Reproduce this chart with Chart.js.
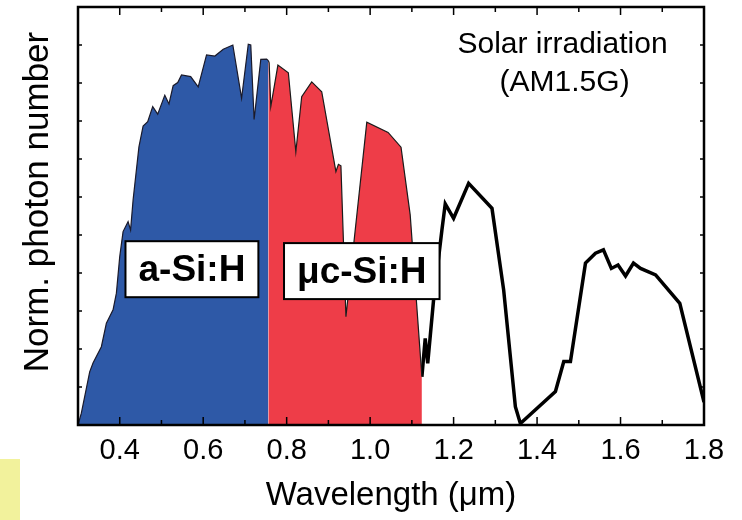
<!DOCTYPE html>
<html><head><meta charset="utf-8">
<script src="https://cdn.jsdelivr.net/npm/chart.js@4.4.1/dist/chart.umd.min.js"></script>
<style>html,body{margin:0;padding:0;background:#fff;}</style>
</head><body>
<canvas id="c" width="742" height="520"></canvas>
<script>
// a-Si:H absorbed part (blue)
const aSiX = [0.300,0.308,0.328,0.336,0.356,0.368,0.384,0.392,0.400,0.408,0.420,0.426,0.432,0.446,0.456,0.467,0.479,0.491,0.508,0.518,0.528,0.539,0.548,0.570,0.588,0.608,0.628,0.648,0.671,0.692,0.708,0.714,0.722,0.738,0.752,0.756];
const aSiY = [0.00,0.31,1.40,1.63,2.06,2.68,3.03,3.47,4.43,5.09,5.35,5.13,5.92,7.32,7.87,7.98,8.38,8.18,8.68,8.45,8.93,9.01,9.21,9.17,8.90,9.74,9.71,9.89,10.00,8.60,10.02,10.00,8.04,9.62,9.63,9.59];
// uc-Si:H absorbed part (red)
const ucSiX = [0.756,0.758,0.762,0.779,0.804,0.822,0.836,0.860,0.884,0.918,0.924,0.930,0.942,0.992,1.043,1.074,1.096,1.124];
const ucSiY = [9.59,9.53,8.38,9.47,9.27,7.19,8.64,9.03,8.77,6.67,6.86,6.82,2.85,7.97,7.70,7.31,5.53,1.27];
// remaining spectrum (black line)
const restX = [1.124,1.132,1.138,1.152,1.172,1.180,1.200,1.236,1.292,1.320,1.348,1.360,1.444,1.464,1.480,1.516,1.540,1.559,1.578,1.594,1.612,1.631,1.648,1.684,1.742,1.800];
const restY = [1.27,2.28,1.62,3.29,5.13,5.82,5.44,6.36,5.70,3.55,0.48,0.04,0.88,1.67,1.67,4.26,4.52,4.61,4.12,4.21,3.92,4.26,4.12,3.95,3.20,0.60];
const xLabelTicks = [0.4,0.6,0.8,1.0,1.2,1.4,1.6,1.8];
const labels = ['a-Si:H','\u03bcc-Si:H'];

const pts = (xs, ys) => xs.map((x, i) => ({x: x, y: ys[i]}));
const BLUE = '#2E59A7', RED = '#EE3D48';
const SANS = "'Liberation Sans', Arial, sans-serif";
const NARROW = "'Liberation Sans Narrow', 'Arial Narrow', 'Liberation Sans', sans-serif";

const deco = {
  id: 'deco',
  beforeDraw(chart) {
    const ctx = chart.ctx;
    ctx.save();
    ctx.fillStyle = '#F2F29C';
    ctx.fillRect(0, 459, 20, 61);
    ctx.restore();
  },
  afterDatasetsDraw(chart) {
    const {ctx, chartArea: a, scales: {x, y}} = chart;
    ctx.save();
    // ticks (inward, all four sides)
    ctx.strokeStyle = '#000';
    ctx.lineWidth = 1.5;
    x.ticks.forEach(t => {
      const px = x.getPixelForValue(t.value);
      const major = xLabelTicks.some(v => Math.abs(v - t.value) < 1e-6);
      const len = major ? 8 : 5;
      ctx.beginPath();
      ctx.moveTo(px, a.bottom); ctx.lineTo(px, a.bottom - len);
      ctx.moveTo(px, a.top); ctx.lineTo(px, a.top + len);
      ctx.stroke();
    });
    y.ticks.forEach(t => {
      const py = y.getPixelForValue(t.value);
      ctx.beginPath();
      ctx.moveTo(a.left, py); ctx.lineTo(a.left + 4, py);
      ctx.moveTo(a.right, py); ctx.lineTo(a.right - 4, py);
      ctx.stroke();
    });
    // frame
    ctx.lineWidth = 2.5;
    ctx.strokeRect(a.left, a.top, a.right - a.left, a.bottom - a.top);

    // label boxes
    const boxes = [{t: labels[0], x: 0.573, y: 4.10}, {t: labels[1], x: 0.980, y: 4.05}];
    ctx.font = "bold 37px " + SANS;
    ctx.textAlign = 'center';
    ctx.textBaseline = 'middle';
    boxes.forEach(b => {
      const cx = x.getPixelForValue(b.x), cy = y.getPixelForValue(b.y);
      const w = ctx.measureText(b.t).width + 26, h = 56;
      ctx.fillStyle = '#fff';
      ctx.fillRect(cx - w / 2, cy - h / 2, w, h);
      ctx.lineWidth = 2;
      ctx.strokeStyle = '#000';
      ctx.strokeRect(cx - w / 2, cy - h / 2, w, h);
      ctx.fillStyle = '#000';
      ctx.fillText(b.t, cx, cy + 2);
    });

    // solar text
    ctx.font = "30px " + SANS;
    ctx.fillStyle = '#000';
    ctx.fillText('Solar irradiation', x.getPixelForValue(1.461), y.getPixelForValue(10.0));
    ctx.fillText('(AM1.5G)', x.getPixelForValue(1.466), y.getPixelForValue(9.02));

    // y axis title
    ctx.save();
    ctx.translate(38, 202);
    ctx.rotate(-Math.PI / 2);
    ctx.font = "35px " + SANS;
    ctx.fillText('Norm. photon number', 0, 0);
    ctx.restore();
    ctx.restore();
  }
};

new Chart(document.getElementById('c'), {
  type: 'line',
  data: {
    datasets: [
      {data: pts(aSiX, aSiY), fill: 'origin', backgroundColor: BLUE, borderColor: '#1a1a2a', borderWidth: 1.2, pointRadius: 0, tension: 0},
      {data: pts(ucSiX, ucSiY), fill: 'origin', backgroundColor: RED, borderColor: '#1a1a1a', borderWidth: 1.2, pointRadius: 0, tension: 0},
      {data: pts(restX, restY), fill: false, borderColor: '#000', borderWidth: 3.5, pointRadius: 0, tension: 0, borderJoinStyle: 'miter'}
    ]
  },
  options: {
    responsive: false,
    animation: false,
    devicePixelRatio: 1,
    layout: {padding: {left: 0, right: 38, top: 7, bottom: 0}},
    plugins: {legend: {display: false}, tooltip: {enabled: false}},
    scales: {
      x: {
        type: 'linear', min: 0.3, max: 1.8,
        grid: {display: false, drawTicks: false},
        border: {display: false},
        ticks: {
          stepSize: 0.1, autoSkip: false, maxRotation: 0, padding: 9,
          color: '#000', font: {family: NARROW, size: 29},
          callback: v => xLabelTicks.some(t => Math.abs(t - v) < 1e-6) ? v.toFixed(1) : ''
        },
        title: {display: true, text: 'Wavelength (\u03bcm)', color: '#000', font: {family: SANS, size: 33}, padding: {top: 0, bottom: 4}},
        afterFit: s => { s.height = 95; }
      },
      y: {
        min: 0, max: 11,
        grid: {display: false, drawTicks: false},
        border: {display: false},
        ticks: {display: false, stepSize: 1},
        afterFit: s => { s.width = 78; }
      }
    }
  },
  plugins: [deco]
});
</script>
</body></html>
